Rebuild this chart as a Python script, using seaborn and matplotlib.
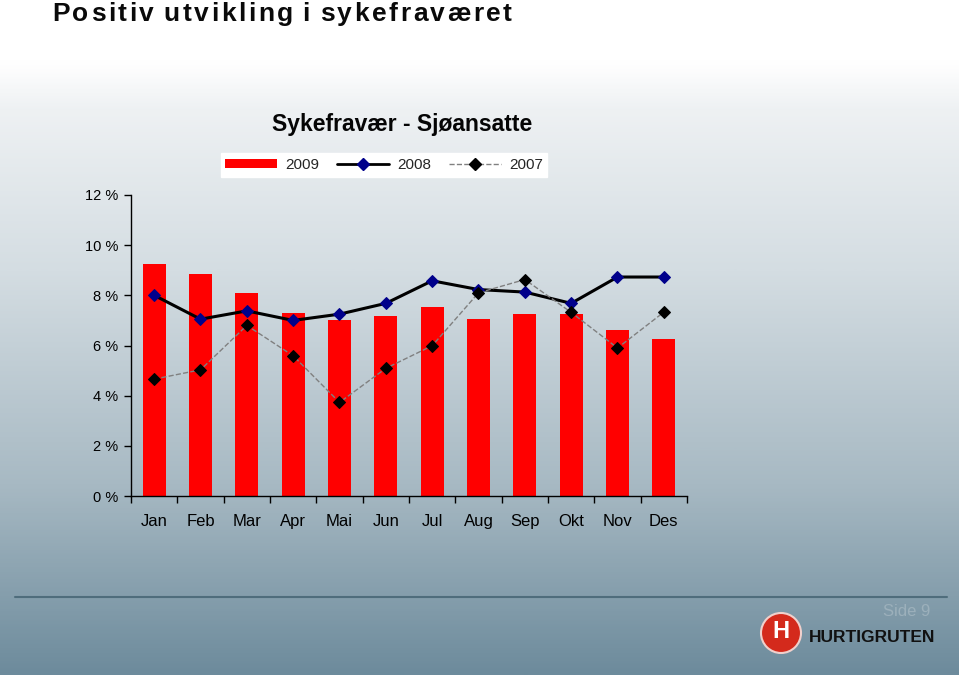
import numpy as np
import pandas as pd
import matplotlib
matplotlib.use("Agg")
import matplotlib.pyplot as plt
import seaborn as sns
from matplotlib.colors import LinearSegmentedColormap
from matplotlib.lines import Line2D
from matplotlib.patches import Patch, Ellipse
from matplotlib import font_manager

months = ["Jan", "Feb", "Mar", "Apr", "Mai", "Jun", "Jul", "Aug", "Sep", "Okt", "Nov", "Des"]
v2009 = [9.24, 8.87, 8.10, 7.29, 7.00, 7.18, 7.52, 7.05, 7.24, 7.24, 6.61, 6.24]
v2008 = [8.00, 7.05, 7.38, 7.00, 7.25, 7.68, 8.58, 8.23, 8.13, 7.68, 8.73, 8.73]
v2007 = [4.66, 5.03, 6.80, 5.59, 3.73, 5.09, 5.99, 8.10, 8.63, 7.32, 5.90, 7.33]
yticks = [0, 2, 4, 6, 8, 10, 12]
ytick_labels = ["0 %", "2 %", "4 %", "6 %", "8 %", "10 %", "12 %"]

sns.set_theme(style="white")
plt.rcParams['font.family'] = ['Liberation Sans', 'DejaVu Sans']

W, H = 959, 675
fig = plt.figure(figsize=(W / 100, H / 100), dpi=100)

# background gradient
bg = fig.add_axes([0, 0, 1, 1])
bg.set_axis_off()
cmap = LinearSegmentedColormap.from_list(
    "bgc",
    [(0.0, "#ffffff"), (0.09, "#ffffff"), (0.16, "#eef1f3"), (0.40, "#d4dde2"),
     (0.72, "#a7b9c3"), (1.0, "#6d8b9c")])
grad = np.linspace(0, 1, 400).reshape(-1, 1)
bg.imshow(grad, aspect="auto", cmap=cmap, extent=[0, 1, 0, 1], origin="upper")
bg.set_xlim(0, 1)
bg.set_ylim(0, 1)

def fx(px):
    return px / W

def fy(py):
    return 1 - py / H

# tracked title
title = "Positiv utvikling i sykefraværet"
renderer = fig.canvas.get_renderer()
tfs = 19
widths = []
for ch in title:
    t = bg.text(0, 0, ch if ch != " " else "n", fontsize=tfs, fontweight="bold")
    w = t.get_window_extent(renderer).width
    if ch == " ":
        w *= 0.3
    widths.append(w)
    t.remove()
total_target = 512 - 52
tracking = (total_target - sum(widths)) / (len(title) - 1)
xpos = 52
for ch, w in zip(title, widths):
    if ch != " ":
        bg.text(fx(xpos), fy(14), ch, fontsize=tfs, fontweight="bold", color="#0a0a0a",
                ha="left", va="center")
    xpos += w + tracking

bg.text(fx(402), fy(125), "Sykefravær - Sjøansatte", fontsize=16.5, fontweight="bold",
        color="#050505", ha="center", va="center")

# footer
bg.plot([fx(15), fx(947)], [fy(597), fy(597)], color="#4f6d7c", lw=1.5)
bg.text(fx(930), fy(611), "Side 9", fontsize=12, color="#9cb0bb", ha="right", va="center")
logo = Ellipse((fx(781), fy(633)), 40 / W, 40 / H, transform=bg.transAxes,
               facecolor="#d42a1c", edgecolor="#f0d0cc", lw=1.5, zorder=5)
bg.add_patch(logo)
bg.text(fx(781), fy(632), "H", fontsize=17, fontweight="bold", color="white",
        ha="center", va="center", zorder=6)
narrow = 'Liberation Sans Narrow' if any(
    f.name == 'Liberation Sans Narrow' for f in font_manager.fontManager.ttflist) else 'Liberation Sans'
bg.text(fx(809), fy(637), "HURTIGRUTEN", fontsize=14.5 if narrow != 'Liberation Sans' else 12.5,
        fontweight="bold", color="#111111", ha="left", va="center", family=[narrow, 'DejaVu Sans'])

# main axes
left, right, top, bottom = 131, 687, 195, 496
ax = fig.add_axes([fx(left), fy(bottom), (right - left) / W, (bottom - top) / H])
ax.patch.set_alpha(0)

df = pd.DataFrame({"month": months, "v2009": v2009})
sns.barplot(data=df, x="month", y="v2009", color="#ff0000", width=0.5, ax=ax,
            saturation=1, order=months, linewidth=0, edgecolor="none")
idx = np.arange(len(months))
sns.lineplot(x=idx, y=v2008, ax=ax, color="black", lw=2.2, marker="D", markersize=6,
             markerfacecolor="#00008b", markeredgecolor="#00008b", zorder=4)
sns.lineplot(x=idx, y=v2007, ax=ax, color="#808080", lw=1.0, linestyle="--", marker="D",
             markersize=6, markerfacecolor="black", markeredgecolor="black", zorder=5)

ax.set_xlim(-0.5, len(months) - 0.5)
ax.set_ylim(0, 12)
ax.set_yticks(yticks)
ax.set_yticklabels(ytick_labels, fontsize=10.5)
ax.set_xticks(idx)
ax.set_xticklabels(months, fontsize=12)
ax.set_xticks(np.arange(-0.5, len(months) + 0.5, 1), minor=True)
ax.tick_params(axis="x", which="major", length=0, pad=13, colors="black")
ax.tick_params(axis="x", which="minor", length=5, width=1, color="black", direction="out", bottom=True)
ax.tick_params(axis="y", length=5, width=1, color="black", direction="out", left=True, pad=4,
               labelcolor="black")
ax.set_xlabel("")
ax.set_ylabel("")
for s in ["top", "right"]:
    ax.spines[s].set_visible(False)
for s in ["left", "bottom"]:
    ax.spines[s].set_color("black")
    ax.spines[s].set_linewidth(1)
ax.grid(False)
if ax.get_legend() is not None:
    ax.get_legend().remove()

handles = [
    Patch(facecolor="#ff0000", edgecolor="none"),
    Line2D([], [], color="black", lw=2, marker="D", markersize=6,
           markerfacecolor="#00008b", markeredgecolor="#00008b"),
    Line2D([], [], color="#808080", lw=1, linestyle="--", marker="D", markersize=6,
           markerfacecolor="black", markeredgecolor="black"),
]
leg = fig.legend(handles, ["2009", "2008", "2007"], loc="center",
                 bbox_to_anchor=(fx(384), fy(165)), ncol=3, frameon=True, fancybox=False,
                 fontsize=11, handlelength=3.4, columnspacing=1.2, borderpad=0.3,
                 handleheight=0.6, handletextpad=0.5, borderaxespad=0)
leg.get_frame().set_facecolor("white")
leg.get_frame().set_edgecolor("white")
leg.get_frame().set_alpha(1)

fig.savefig("out.png", dpi=100)
